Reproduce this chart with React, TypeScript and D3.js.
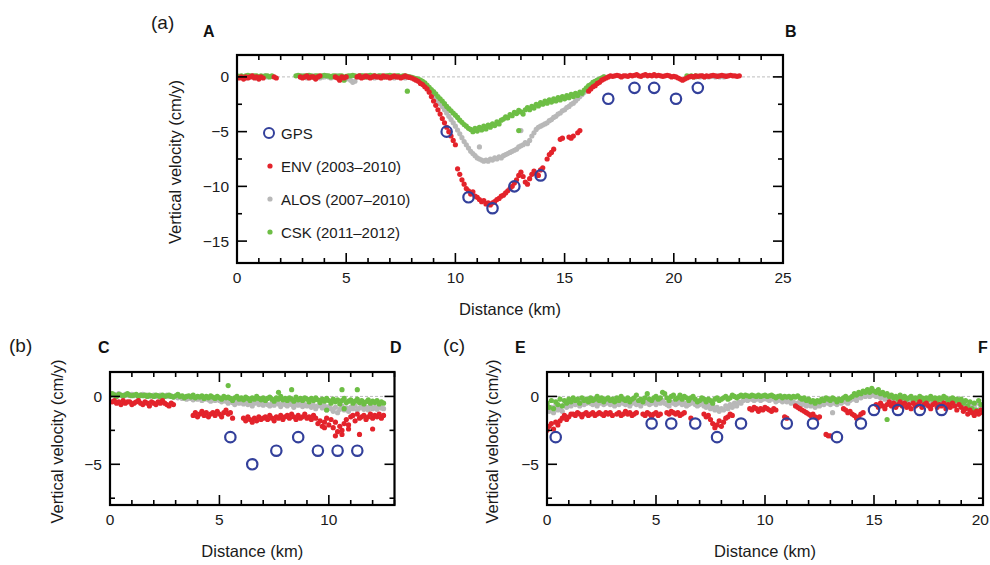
import React from "react";
import * as d3 from "d3";

// ---------- data ----------
// Each segment: [start distance (km), values sampled every STEP km]
const STEP = 0.1;
type Seg = [number, number[]];
type Pt = [number, number];

// Panel (a)
const gpsA: Pt[] = [[9.6, -5], [10.6, -11], [11.7, -12], [12.7, -10], [13.9, -9], [17.0, -2], [18.2, -1], [19.1, -1], [20.1, -2], [21.1, -1]];
const envA: Seg[] = [
  [0.1, [-0.1, 0, -0.2, 0, -0.1, 0, 0.1, -0.1, 0, -0.2, 0, -0.1]],
  [1.7, [0, -0.1]],
  [2.9, [0, -0.1, 0, 0.1, -0.1, 0, 0, -0.2, 0, 0.1]],
  [4.5, [0, -0.1, -0.3, 0, -0.1, 0]],
  [5.5, [0, 0.1, -0.1, 0, 0.1, 0, -0.1, 0, 0.1, 0, 0, -0.1, 0.1, 0, 0, -0.1, 0, 0.1, 0, 0, -0.1, 0, 0.1, 0]],
  [7.9, [-0.05, -0.1, -0.2, -0.3, -0.4, -0.6, -0.7, -0.9, -1.1, -1.4, -1.8, -2.2, -2.6, -3.0, -3.4, -3.8, -4.2, -4.6, -5.0, -5.4, -5.8, -6.2]],
  [10.1, [-8.4, -8.9, -9.4, -9.8, -10.2, -10.4, -10.7, -10.5, -10.9, -11.0, -11.2, -11.4, -11.3, -11.6, -11.5, -11.7, -11.5, -11.4, -11.2, -11.1, -10.9, -10.8, -10.6, -10.4, -10.2, -10.0, -9.7, -9.4, -9.0, -8.7, -9.1, -9.6, -9.8, -9.3, -8.9, -8.6, -8.8, -9.0]],
  [13.9, [-8.5, -8.3]],
  [14.2, [-7.5, -7.1, -6.9, -6.6]],
  [14.8, [-5.7, -5.6]],
  [15.2, [-5.5, -5.6, -5.4]],
  [15.6, [-5.1, -4.9]],
  [16.1, [-1.3, -1.1, -0.9, -0.8, -0.6, -0.5, -0.3, -0.2, -0.1, 0]],
  [17.1, [0.1, 0.05, 0.1, 0.15, 0.1, 0, 0.1, 0.1, 0.05, 0.15,
    0.1, 0.15, 0.2, 0.1, 0.05, 0.15, 0.2, 0.1, 0.15, 0.1,
    0.2, 0.1, 0.15, 0.1, 0.05, 0.1, 0.15, 0.1, 0, 0.05,
    0, -0.1, -0.2, -0.3, -0.2, -0.1, 0, 0.05, 0, 0.1,
    0.05, 0.1, 0.1, 0, 0.1, 0.05, 0.1, 0.15, 0.1, 0.05,
    0.1, 0.15, 0.1, 0.05, 0.1, 0.15, 0.1, 0.1, 0.05, 0.1]],
];
const alosA: Seg[] = [
  [0.2, [0, 0, -0.1, 0, 0, 0.1, 0, -0.1, 0, 0, 0, 0.1, 0]],
  [2.9, [0, 0.1, 0, -0.1, 0, 0, 0.1, 0, 0, -0.1,
    0, 0, 0.1, 0, -0.1, 0, 0, 0.1, 0, 0,
    -0.1, -0.2, 0, -0.3, -0.5, -0.4, 0, 0, 0.1, 0,
    0, 0.1, 0, 0, -0.1, 0, 0.1, 0, 0, 0,
    0.1, 0, 0, -0.1, 0, 0.1, 0, 0, -0.1, 0]],
  [7.9, [0, -0.05, -0.1, -0.2, -0.3, -0.45, -0.6, -0.8, -1.0, -1.2,
    -1.45, -1.7, -1.95, -2.2, -2.45, -2.7, -3.0, -3.3, -3.6, -3.9,
    -4.2, -4.5, -4.85, -5.2, -5.55, -5.9, -6.2, -6.5, -6.8, -7.0,
    -7.2, -7.4, -7.5, -7.6, -7.7, -7.6, -7.7, -7.5, -7.6, -7.4,
    -7.5, -7.3, -7.4, -7.2, -7.1, -7.0, -6.9, -6.8, -6.7, -6.6,
    -6.4, -6.3, -6.2, -6.0, -6.1, -5.8, -5.4, -5.1, -4.8, -4.6,
    -4.5, -4.4, -4.3, -4.2, -4.0, -3.9, -3.7, -3.6, -3.4, -3.3,
    -3.1, -3.0, -2.8, -2.7, -2.5, -2.4, -2.2, -2.0, -1.8, -1.6,
    -1.4, -1.1, -0.9, -0.7, -0.5, -0.4, -0.3, -0.2, -0.1, 0]],
  [11.1, [-6.4]],
  [13.0, [-4.9]],
  [21.0, [0, 0.05, 0, 0.1, 0, 0.05, 0, 0.1, 0.05, 0, 0.1, 0, 0.05, 0, 0.1]],
];
const cskA: Seg[] = [
  [0.0, [0.1, 0.05, 0.1, 0, 0.1, 0.15, 0.1, 0.05, 0.1, 0.1, 0, 0.1, 0.05, 0.1, 0.1, 0, 0.1]],
  [2.7, [0.1, 0.15, 0.1, 0.05, 0.1, 0.1, 0.15, 0.1, 0, 0.1,
    0.1, 0.05, 0.1, 0.15, 0.1, 0.1, 0, 0.1, 0.1, 0.05,
    0.1, 0.1, -0.3, 0.05, 0.1, 0.1, 0.15, 0.1, 0.05, 0.1,
    0.1, 0.1, 0, 0.1, 0.15, 0.1, 0.1, 0.05, 0.1, 0.1,
    0, 0.1, 0.1, 0.15, 0.1, 0.05, 0.1, 0.1, 0, 0.1,
    0.1, 0.05]],
  [7.8, [-1.3]],
  [7.9, [0, -0.05, -0.1, -0.15, -0.2, -0.3, -0.4, -0.55, -0.75, -0.95,
    -1.15, -1.35, -1.55, -1.8, -2.0, -2.2, -2.45, -2.7, -2.9, -3.1,
    -3.3, -3.5, -3.7, -3.95, -4.15, -4.35, -4.5, -4.7, -4.8, -5.0,
    -4.7, -4.95, -4.6, -4.85, -4.5, -4.75, -4.4, -4.6, -4.3, -4.45,
    -4.1, -4.3, -3.95, -3.85, -3.65, -3.75, -3.45, -3.55, -3.25, -3.35,
    -3.05, -3.2, -3.4, -3.0, -2.8, -3.0, -2.7, -2.85, -2.5, -2.65,
    -2.35, -2.5, -2.2, -2.4, -2.1, -2.3, -2.0, -2.2, -1.9, -2.1,
    -1.8, -2.0, -1.7, -1.9, -1.6, -1.8, -1.5, -1.7, -1.4, -1.5,
    -1.2, -1.0, -0.8, -0.7, -0.5, -0.4, -0.3, -0.2, -0.1, 0]],
  [12.9, [-4.9]],
  [20.6, [0.1, 0.05, 0.1, 0, 0.1, 0.05]],
];

// Panel (b)
const gpsB: Pt[] = [[5.5, -3], [6.5, -5], [7.6, -4], [8.6, -3], [9.5, -4], [10.4, -4], [11.3, -4]];
const envB: Seg[] = [
  [0.1, [-0.4, -0.3, -0.5, -0.4, -0.6, -0.3, -0.5, -0.4, -0.4, -0.6,
    -0.5, -0.4, -0.3, -0.5, -0.6, -0.4, -0.5, -0.7, -0.4, -0.5,
    -0.6, -0.4, -0.5, -0.3, -0.5, -0.6, -0.7, -0.5, -0.6]],
  [3.8, [-1.4, -1.2, -1.5, -1.3, -1.1, -1.4, -1.2, -1.5, -1.3, -1.2, -1.4, -1.1, -1.3, -1.5, -1.2, -1.0, -1.3, -1.2]],
  [5.6, [-1.6]],
  [6.1, [-1.6, -1.8, -1.5, -1.7, -1.9, -1.6, -1.8, -1.5, -1.7, -1.6,
    -1.5, -1.7, -1.4, -1.6, -1.8, -1.5, -1.6, -1.4, -1.7, -1.5,
    -1.4, -1.6, -1.3, -1.5, -1.7, -1.4, -1.6, -1.5, -1.3, -1.6,
    -1.5, -1.7, -1.4, -1.6, -2.0, -1.8, -2.2, -1.9, -1.6, -2.1,
    -1.7, -2.3, -1.9, -2.6, -2.2, -2.8, -2.0, -1.7, -2.4, -1.5,
    -1.4, -1.8, -1.3, -1.6, -1.5, -1.4, -1.7, -1.5, -1.3, -1.6,
    -1.4, -1.5, -1.3, -1.6, -1.4]],
  [9.8, [-2.3]], [10.3, [-2.9]], [10.6, [-2.5]], [10.9, [-2.1]], [11.4, [-2.8]], [12.0, [-2.4]],
];
const alosB: Seg[] = [
  [0.0, [0.2, 0.1, 0.15, 0.05, 0.2, 0.1, 0, 0.15, 0.1, 0.05,
    0.15, 0.05, 0.1, 0, 0.1, 0.15, 0.05, 0.1, 0, 0.05,
    0.1, 0, 0.05, 0.1, -0.05, 0, 0.1, 0, 0.05, -0.05, 0]],
  [3.1, [-0.1, 0, -0.15, -0.05, -0.2, -0.1, -0.15, -0.25, -0.1, -0.2,
    -0.15, -0.3, -0.2, -0.1, -0.25, -0.35, -0.2, -0.3, -0.15, -0.3,
    -0.4, -0.25, -0.35, -0.5, -0.3, -0.45, -0.6, -0.35, -0.5, -0.4,
    -0.55, -0.4, -0.6, -0.45, -0.7, -0.5, -0.4, -0.6, -0.5, -0.65,
    -0.45, -0.6, -0.7, -0.5, -0.65, -0.4, -0.55, -0.75, -0.5, -0.6,
    -0.7, -0.5, -0.6, -0.8, -0.55, -0.65, -0.5, -0.75, -0.6, -0.7,
    -0.55, -0.8, -0.65, -0.9, -0.7, -0.6, -0.85, -0.7, -1.0, -0.75,
    -0.9, -1.1, -0.8, -1.2, -0.95, -0.7, -1.0, -0.85, -1.1, -0.8,
    -0.9, -0.7, -1.0, -0.85, -0.75, -0.95, -0.8, -1.0, -0.7, -0.9,
    -0.8, -0.95, -0.7, -0.85, -0.9]],
];
const cskB: Seg[] = [
  [0.0, [0.1, 0.2, 0.1, 0, 0.15, 0.1, 0.05, 0.1, 0.2, 0.1,
    0.05, 0.1, 0.15, 0, 0.1, 0.05, 0.1, 0, 0.1, 0.05,
    0, 0.1, 0.05, -0.05, 0.1, 0, 0.05, 0.1, 0, -0.05,
    0.05, 0.15, 0, 0.05, -0.1, 0, 0.05, -0.05, 0.1, -0.1,
    0, -0.05, 0.05, -0.15, 0, -0.1, 0.05, -0.05, -0.15, 0,
    -0.1, -0.2, 0, -0.1, -0.05, -0.15, -0.3, -0.1, 0, -0.2,
    -0.1, -0.25, -0.05, -0.15, -0.3, -0.1, -0.2, 0, -0.15, -0.25,
    -0.1, -0.3, -0.15, -0.05, -0.2, -0.35, -0.1, -0.2, 0, -0.25,
    -0.15, -0.3, -0.1, -0.2, -0.35, -0.05, -0.25, -0.15, -0.3, -0.1,
    -0.2, -0.4, -0.15, -0.3, -0.1, -0.25, -0.45, -0.2, -0.35, -0.15,
    -0.3, -0.5, -0.2, -0.4, -0.25, -0.55, -0.3, -0.15, -0.45, -0.35,
    -0.25, -0.5, -0.35, -0.2, -0.45, -0.3, -0.55, -0.4, -0.25, -0.5,
    -0.35, -0.45, -0.3, -0.55, -0.4, -0.5]],
  [5.4, [0.8]], [7.7, [0.3]], [8.3, [0.5]], [10.6, [0.5]], [11.3, [0.5]], [9.9, [-1.0]], [10.7, [-0.9]],
];

// Panel (c)
const gpsC: Pt[] = [[0.4, -3], [4.8, -2], [5.7, -2], [6.8, -2], [7.8, -3], [8.9, -2], [11.0, -2], [12.2, -2], [13.3, -3], [14.4, -2], [15.0, -1], [16.1, -1], [17.1, -1], [18.1, -1]];
const envC: Seg[] = [
  [0.0, [-2.5, -2.2, -2.0, -2.4, -1.9, -2.1, -1.8, -1.6, -1.4, -1.7, -1.5, -1.3]],
  [1.2, [-1.3, -1.4, -1.2, -1.3, -1.5, -1.3, -1.2, -1.4, -1.3, -1.2, -1.4, -1.3, -1.2, -1.3, -1.4, -1.2, -1.3, -1.2, -1.4]],
  [3.2, [-1.3, -1.2, -1.4, -1.3, -1.1, -1.3, -1.2, -1.4, -1.3, -1.2]],
  [4.4, [-1.3, -1.4, -1.2, -1.3, -1.5, -1.3, -1.2, -1.4, -1.3]],
  [5.5, [-1.2, -1.3, -1.1, -1.2, -1.3, -1.2, -1.4, -1.3, -1.2]],
  [6.6, [-1.6]],
  [7.2, [-1.3, -1.5, -1.4, -1.7, -2.0, -2.3, -2.1, -1.8, -2.2, -1.9, -1.6, -1.5, -1.3, -1.4]],
  [9.3, [-0.9, -1.0, -0.8, -0.9, -1.1, -0.9, -1.0, -0.8, -0.9, -1.0, -1.1, -0.9, -1.0]],
  [10.9, [-1.5, -1.6]],
  [11.4, [-0.7, -0.8, -0.9, -1.0, -1.1, -1.2, -1.3, -1.4, -1.3, -1.5, -1.6, -1.5]],
  [12.8, [-2.8, -2.9, -2.9]],
  [13.6, [-0.9, -1.0, -1.2, -1.1, -1.3, -1.4, -1.6, -1.5, -1.3, -1.2]],
  [15.1, [-0.6, -0.8, -0.5, -0.7, -0.9, -0.6, -0.4, -0.7, -0.5, -0.8,
    -0.6, -0.4, -0.7, -0.5, -0.8, -0.6, -0.9, -0.5, -0.7, -0.6,
    -0.4, -0.8, -0.6, -0.5, -0.7, -0.9, -0.6, -0.5, -0.8, -0.6,
    -0.7, -0.5, -0.9, -0.6, -0.8, -0.5, -0.7, -1.0, -0.6, -0.8,
    -1.1, -0.9, -1.3, -1.0, -1.2, -1.4, -1.1, -1.3, -1.0, -1.2]],
];
const alosC: Seg[] = [
  [0.0, [-0.6, -1.1, -0.8, -1.2, -0.7, -1.0, -0.9, -1.1, -0.6, -0.8,
    -0.5, -0.7, -0.4, -0.6, -0.5, -0.7, -0.4, -0.6, -0.5, -0.3,
    -0.5, -0.6, -0.4, -0.7, -0.5, -0.3, -0.6, -0.5, -0.4, -0.6,
    -0.5, -0.7, -0.4, -0.6, -0.3, -0.5, -0.6, -0.4, -0.7, -0.5,
    -0.4, -0.6, -0.5, -0.7, -0.4, -0.5, -0.3, -0.6, -0.5, -0.4,
    -0.6, -0.4, -0.5, -0.3, -0.5, -0.6, -0.7, -0.4, -0.5, -0.6,
    -0.5, -0.4, -0.6, -0.5, -0.7, -0.6, -0.5, -0.4, -0.6, -0.7,
    -0.6, -0.5, -0.7, -0.8, -0.6, -0.9, -0.7, -1.0, -0.8, -1.1,
    -0.9, -1.0, -0.7, -0.9, -0.6, -0.8, -0.5, -0.7, -0.4, -0.5,
    -0.3, -0.2, -0.3, -0.1, -0.2, -0.3, -0.2, -0.1, -0.3, -0.2,
    -0.1, -0.2, -0.3, -0.1, -0.2, -0.4, -0.3, -0.2, -0.4, -0.3,
    -0.4, -0.3, -0.5, -0.4, -0.6, -0.5, -0.4, -0.6, -0.5, -0.7,
    -0.5, -0.7, -0.6, -0.8, -0.6, -0.7, -0.5, -0.6, -0.4, -0.5,
    -0.6, -1.2, -0.5, -0.6, -0.4, -0.5, -0.3, -0.4, -0.5, -0.3,
    -0.2, -0.1, -0.3, 0, -0.1, 0.1, 0, 0.2, 0, 0.1,
    0.1, 0, 0.2, -0.1, 0, -0.2, 0, -0.3, -0.1, -0.4,
    -0.3, -0.4, -0.2, -0.5, -0.3, -0.4, -0.3, -0.2, -0.5, -0.3,
    -0.4, -0.2, -0.3, -0.5, -0.3, -0.4, -0.2, -0.4, -0.3, -0.5,
    -0.3, -0.4, -0.2, -0.3, -0.5, -0.4, -0.3, -0.5, -0.4, -0.6,
    -0.4, -0.7, -0.5, -0.9, -0.6, -1.1, -0.7, -1.2, -0.5, -0.8]],
];
const cskC: Seg[] = [
  [0.0, [-0.5, -0.8, -0.3, -0.9, -0.4, -0.6, -0.2, -0.7, -0.3, -0.5,
    -0.2, -0.4, -0.1, -0.3, -0.2, -0.5, -0.1, -0.3, -0.2, -0.4,
    -0.1, -0.3, -0.2, 0, -0.3, -0.1, -0.4, -0.2, -0.1, -0.3,
    -0.2, -0.4, -0.1, -0.3, 0, -0.2, -0.3, -0.1, -0.4, -0.2,
    -0.1, 0.1, -0.3, -0.2, -0.4, -0.1, 0.2, -0.2, -0.3, -0.1,
    0, -0.2, -0.1, 0.3, 0.2, -0.1, -0.3, 0, 0.1, -0.2,
    -0.1, 0.1, -0.2, 0, -0.1, -0.3, -0.1, 0, -0.2, -0.4,
    -0.3, -0.1, -0.2, -0.4, -0.2, -0.3, -0.5, -0.2, -0.1, -0.3,
    -0.2, -0.1, 0, -0.2, -0.1, 0.1, 0, -0.1, 0, 0.1,
    0, 0.1, 0.05, 0, 0.1, 0.05, 0, 0.1, 0, 0.05,
    0.1, 0, 0.05, 0.1, 0, -0.1, 0, 0.05, -0.1, 0,
    -0.05, 0, -0.1, 0, -0.05, 0.05, -0.1, -0.2, -0.1, -0.3,
    -0.2, -0.4, -0.3, -0.5, -0.3, -0.4, -0.2, -0.3, -0.1, -0.2,
    -0.3, -0.1, -0.2, -0.4, -0.2, -0.3, -0.1, 0, -0.2, -0.1,
    0, 0.2, 0.1, 0.3, 0.2, 0.4, 0.3, 0.5, 0.3, 0.6,
    0.4, 0.3, 0.5, 0.2, 0.3, 0.1, 0.2, 0, 0.1, -0.1,
    0, -0.2, 0.1, -0.1, 0, -0.2, -0.1, 0, -0.3, -0.1,
    -0.2, 0, -0.1, -0.3, -0.1, -0.2, 0, -0.2, -0.1, -0.3,
    -0.1, -0.2, 0, -0.1, -0.3, -0.2, -0.1, -0.3, -0.2, -0.4,
    -0.2, -0.5, -0.3, -0.7, -0.4, -0.9, -0.5, -1.0, -0.3, -0.6]],
  [15.6, [-1.7]],
];

const legendLabels = ["GPS", "ENV (2003–2010)", "ALOS (2007–2010)", "CSK (2011–2012)"];

// ---------- styling ----------
const FONT = "'Liberation Sans', Arial, Helvetica, sans-serif";
const C_ENV = "#e3232b";
const C_ALOS = "#b8b8b8";
const C_CSK = "#6dbe45";
const C_GPS = "#33409b";
const TXT = "#1a1a1a";

function expand(segs: Seg[]): Pt[] {
  const out: Pt[] = [];
  segs.forEach(([x0, vals]) => vals.forEach((v, i) => out.push([x0 + i * STEP, v])));
  return out;
}

interface PanelCfg {
  id: string;
  left: number; top: number; right: number; bottom: number;
  xMax: number; yMin: number; yMax: number;
  xLabels: number[]; yLabels: number[];
  tag: string; tagX: number; tagY: number;
  startName: string; startX: number; endName: string; endX: number; nameY: number;
  yTitleX: number;
  env: Seg[]; alos: Seg[]; csk: Seg[]; gps: Pt[];
  legend: boolean;
}

const panels: PanelCfg[] = [
  {
    id: "a", left: 237, top: 55, right: 783, bottom: 263, xMax: 25, yMin: -17, yMax: 2,
    xLabels: [0, 5, 10, 15, 20, 25], yLabels: [0, -5, -10, -15],
    tag: "(a)", tagX: 151, tagY: 29, startName: "A", startX: 203, endName: "B", endX: 785, nameY: 37,
    yTitleX: 175, env: envA, alos: alosA, csk: cskA, gps: gpsA, legend: true,
  },
  {
    id: "b", left: 110, top: 372, right: 394.5, bottom: 505, xMax: 13, yMin: -8, yMax: 1.8,
    xLabels: [0, 5, 10], yLabels: [0, -5],
    tag: "(b)", tagX: 9, tagY: 352, startName: "C", startX: 98, endName: "D", endX: 390, nameY: 353,
    yTitleX: 57, env: envB, alos: alosB, csk: cskB, gps: gpsB, legend: false,
  },
  {
    id: "c", left: 547, top: 372, right: 983, bottom: 505, xMax: 20, yMin: -8, yMax: 1.8,
    xLabels: [0, 5, 10, 15, 20], yLabels: [0, -5],
    tag: "(c)", tagX: 443, tagY: 352, startName: "E", startX: 515, endName: "F", endX: 978, nameY: 353,
    yTitleX: 492, env: envC, alos: alosC, csk: cskC, gps: gpsC, legend: false,
  },
];

const fmt = (v: number) => (v < 0 ? "\u2212" + Math.abs(v) : String(v));

function Panel({ c }: { c: PanelCfg }) {
  const x = d3.scaleLinear().domain([0, c.xMax]).range([c.left, c.right]);
  const y = d3.scaleLinear().domain([c.yMin, c.yMax]).range([c.bottom, c.top]);
  const xTicks = d3.range(0, c.xMax + 0.001, 1);
  const yTicks = d3.range(Math.ceil(c.yMin / 2.5) * 2.5, c.yMax + 0.001, 2.5);
  const MAJ = 10, MIN = 5;
  const clip = `clip-${c.id}`;
  const dots = (segs: Seg[], color: string, r: number) =>
    expand(segs).map(([dx, v], i) => <circle key={i} cx={x(dx)} cy={y(v)} r={r} fill={color} />);
  return (
    <g>
      <defs>
        <clipPath id={clip}>
          <rect x={c.left} y={c.top} width={c.right - c.left} height={c.bottom - c.top} />
        </clipPath>
      </defs>
      <g clipPath={`url(#${clip})`}>
        <line x1={x(0)} x2={x(c.xMax)} y1={y(0)} y2={y(0)} stroke="#bdbdbd" strokeWidth={1} strokeDasharray="3,2" />
        <g>{dots(c.alos, C_ALOS, 2.6)}</g>
        <g>{dots(c.csk, C_CSK, 2.6)}</g>
        <g>{dots(c.env, C_ENV, 2.6)}</g>
        <g>
          {c.gps.map(([dx, v], i) => (
            <circle key={i} cx={x(dx)} cy={y(v)} r={5.2} fill="none" stroke={C_GPS} strokeWidth={2.2} />
          ))}
        </g>
      </g>
      {/* ticks */}
      <g stroke="#000" strokeWidth={1.6}>
        {xTicks.map((t) => {
          const L = t % 5 === 0 ? MAJ : MIN;
          return (
            <g key={"x" + t}>
              <line x1={x(t)} x2={x(t)} y1={c.bottom} y2={c.bottom - L} />
              <line x1={x(t)} x2={x(t)} y1={c.top} y2={c.top + L} />
            </g>
          );
        })}
        {yTicks.map((t) => {
          const L = t % 5 === 0 ? MAJ : MIN;
          return (
            <g key={"y" + t}>
              <line x1={c.left} x2={c.left + L} y1={y(t)} y2={y(t)} />
              <line x1={c.right} x2={c.right - L} y1={y(t)} y2={y(t)} />
            </g>
          );
        })}
      </g>
      <rect x={c.left} y={c.top} width={c.right - c.left} height={c.bottom - c.top} fill="none" stroke="#000" strokeWidth={2.2} />
      {/* tick labels */}
      <g fontFamily={FONT} fontSize={15.5} fill={TXT}>
        {c.xLabels.map((t) => {
          const atEdge = x(t) > 975;
          return (
            <text key={"xl" + t} x={atEdge ? 989 : x(t)} y={c.bottom + 20} textAnchor={atEdge ? "end" : "middle"}>{t}</text>
          );
        })}
        {c.yLabels.map((t) => (
          <text key={"yl" + t} x={c.left - 8} y={y(t)} textAnchor="end" dominantBaseline="central">{fmt(t)}</text>
        ))}
      </g>
      {/* titles */}
      <text x={(c.left + c.right) / 2} y={c.bottom + 52} textAnchor="middle" fontFamily={FONT} fontSize={16.5} fill={TXT}>Distance (km)</text>
      <text transform={`translate(${c.yTitleX},${(c.top + c.bottom) / 2 + 3}) rotate(-90)`} textAnchor="middle" dominantBaseline="central" fontFamily={FONT} fontSize={16.5} fill={TXT}>Vertical velocity (cm/y)</text>
      <text x={c.tagX} y={c.tagY} fontFamily={FONT} fontSize={19} fill={TXT}>{c.tag}</text>
      <text x={c.startX} y={c.nameY} fontFamily={FONT} fontSize={16} fontWeight="bold" fill="#111">{c.startName}</text>
      <text x={c.endX} y={c.nameY} fontFamily={FONT} fontSize={16} fontWeight="bold" fill="#111">{c.endName}</text>
      {c.legend && (
        <g fontFamily={FONT} fontSize={15} fill={TXT}>
          {legendLabels.map((lab, i) => {
            const ly = 133 + i * 33;
            return (
              <g key={lab}>
                {i === 0 ? (
                  <circle cx={269} cy={ly} r={5} fill="none" stroke={C_GPS} strokeWidth={2} />
                ) : (
                  <circle cx={270} cy={ly} r={2.6} fill={[C_ENV, C_ALOS, C_CSK][i - 1]} />
                )}
                <text x={281} y={ly} dominantBaseline="central">{lab}</text>
              </g>
            );
          })}
        </g>
      )}
    </g>
  );
}

export default function App() {
  return (
    <svg width={990} height={565} style={{ position: "absolute", left: 0, top: 0, background: "#fff" }}>
      <rect x={0} y={0} width={990} height={565} fill="#fff" />
      {panels.map((p) => (
        <Panel key={p.id} c={p} />
      ))}
    </svg>
  );
}
